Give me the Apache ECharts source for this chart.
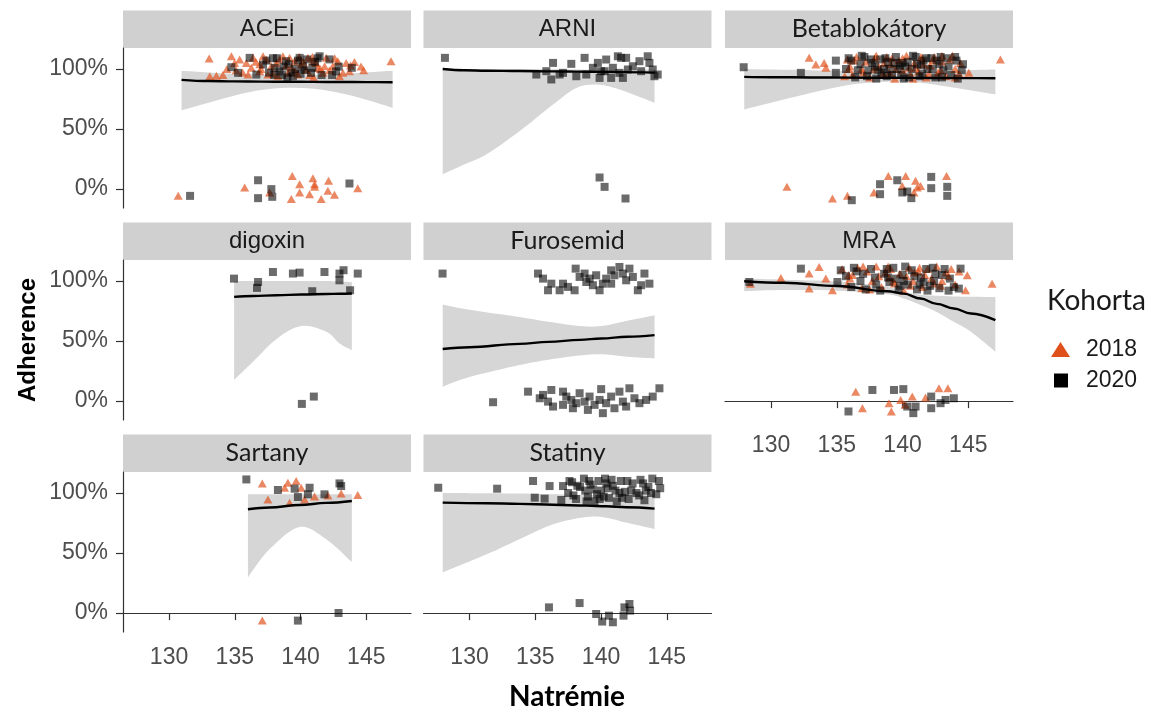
<!DOCTYPE html>
<html lang="cs">
<head>
<meta charset="UTF-8">
<script src="https://cdn.jsdelivr.net/npm/echarts@6/dist/echarts.min.js"></script>
<title>Adherence a natrémie</title>
</head>
<body style="margin:0;background:#fff">
<div id="chart" style="width:1151px;height:713px;"></div>
<script>
// tick labels / axis ranges
const X_TICKS = [130, 135, 140, 145];
const Y_TICKS = [0, 0.5, 1];
const PANELS = ['ACEi', 'ARNI', 'Betablokátory', 'digoxin', 'Furosemid', 'MRA', 'Sartany', 'Statiny'];
const COHORTS = ['2018', '2020'];

// smooth fits: [natremie, fit, lower, upper]
const ACEI_FIT = [[130.95, 0.91, 0.656, 0.985], [133, 0.90, 0.72, 0.97], [135, 0.897, 0.78, 0.96], [137, 0.895, 0.825, 0.955],
    [139, 0.894, 0.844, 0.95], [141, 0.893, 0.835, 0.95], [143, 0.892, 0.80, 0.96], [145, 0.891, 0.745, 0.97], [147.0, 0.89, 0.678, 0.985]];
const ARNI_FIT = [[127.96, 1.0, 0.124, 1.005], [129.6, 0.99, 0.205, 1.0], [131.29, 0.986, 0.29, 1.0], [133.82, 0.983, 0.484, 1.0],
    [136.35, 0.98, 0.705, 0.998], [138.12, 0.978, 0.843, 0.995], [139.63, 0.976, 0.871, 0.993], [141.4, 0.974, 0.83, 0.993], [144.07, 0.97, 0.72, 0.995]];
const BETA_FIT = [[127.96, 0.935, 0.664, 1.0], [130, 0.932, 0.72, 0.995], [133, 0.93, 0.80, 0.99], [136, 0.928, 0.87, 0.985],
    [138.8, 0.927, 0.894, 0.975], [141, 0.926, 0.89, 0.975], [143, 0.925, 0.86, 0.98], [145, 0.924, 0.825, 0.99], [147.06, 0.923, 0.788, 0.995]];
const DIGOXIN_FIT = [[134.95, 0.868, 0.176, 1.0], [136.4, 0.875, 0.33, 1.0], [138.2, 0.882, 0.52, 1.0], [140.06, 0.888, 0.625, 1.0],
    [141.96, 0.892, 0.577, 1.0], [142.97, 0.894, 0.48, 0.995], [143.9, 0.896, 0.425, 0.99]];
const FURO_FIT = [[127.96, 0.434, 0.12, 0.805], [130, 0.449, 0.2, 0.76], [133.8, 0.477, 0.30, 0.70], [136, 0.493, 0.345, 0.66],
    [138.4, 0.51, 0.38, 0.625], [140.0, 0.522, 0.39, 0.625], [142, 0.536, 0.37, 0.67], [144.07, 0.55, 0.356, 0.716]];
const MRA_FIT = [[127.96, 0.998, 0.915, 1.02], [131, 0.985, 0.925, 1.01], [135.05, 0.959, 0.92, 0.995], [138.84, 0.915, 0.89, 0.95],
    [140.1, 0.895, 0.854, 0.91], [141.37, 0.854, 0.80, 0.885], [142.6, 0.81, 0.743, 0.877], [143.9, 0.771, 0.66, 0.872],
    [145.2, 0.73, 0.577, 0.87], [147.06, 0.674, 0.411, 0.868]];
const SARTANY_FIT = [[136.0, 0.865, 0.297, 0.99], [137.65, 0.88, 0.533, 0.99], [139.93, 0.9, 0.718, 0.99], [141.95, 0.918, 0.616, 0.99], [143.9, 0.934, 0.427, 0.99]];
const STATINY_FIT = [[127.96, 0.92, 0.339, 1.0], [131.3, 0.915, 0.49, 0.998], [133.8, 0.91, 0.616, 0.995], [136.35, 0.902, 0.74, 0.99],
    [138.88, 0.895, 0.80, 0.985], [140.4, 0.89, 0.795, 0.985], [141.9, 0.882, 0.754, 0.985], [144.07, 0.87, 0.70, 0.99]];

// jittered patients: [natremie, adherence]
const ACEI_2018 = [[133.05, 1.087], [134.74, 1.106], [146.88, 1.065], [133.1, 0.94], [133.6, 0.945], [134.1, 0.95], [135.37, 1.079], [135.88, 1.051],
    [136.39, 1.093], [136.89, 0.982], [137.4, 1.079], [137.52, 0.954], [138.16, 1.051], [138.66, 1.106], [139.04, 0.968], [139.55, 1.065],
    [140.43, 0.996], [140.56, 1.093], [141.19, 1.051], [141.7, 0.968], [141.95, 1.093], [142.46, 1.023], [142.84, 1.065], [143.22, 0.968],
    [143.47, 1.051], [144.1, 1.059], [142.96, 0.94], [136.01, 0.954], [134.99, 1.051], [136.26, 1.01], [137.78, 1.023], [139.3, 1.01],
    [139.8, 0.954], [140.05, 1.037], [141.32, 1.01], [141.83, 1.023], [138.28, 0.94], [137.15, 1.106], [139.17, 1.093], [140.94, 1.065],
    [143.72, 0.982], [135.1, 0.99], [138.9, 1.03], [140.7, 0.95], [142.2, 0.99], [144.6, 1.02], [137.0, 1.0], [139.9, 1.1], [141.0, 0.93], [136.6, 1.06],
    [135.6, 0.97], [136.9, 1.04], [138.4, 1.08], [139.6, 0.98], [140.2, 1.06], [141.5, 1.0], [142.6, 1.09], [143.8, 1.03], [144.8, 0.99], [134.4, 1.0],
    [137.9, 0.96], [140.9, 1.1],
    [130.7, -0.056], [135.75, 0.014], [137.65, -0.028], [139.37, 0.11], [139.93, 0.041], [140.94, 0.091], [141.07, 0.041], [141.07, 0.019],
    [142.13, 0.069], [139.93, -0.028], [140.69, -0.042], [139.3, -0.083], [141.57, -0.083], [142.08, -0.014], [142.58, -0.047], [144.35, 0.008]];
const ACEI_2020 = [[134.74, 1.015], [135.25, 0.968], [136.13, 1.093], [143.9, 1.01], [142.7, 0.98], [141.45, 1.106], [139.42, 0.94], [137.9, 1.09],
    [140.18, 1.023], [138.9, 1.065], [137.15, 1.037], [138.4, 0.98], [142.2, 1.08], [140.8, 0.968], [136.64, 0.954], [139.93, 1.093], [138.03, 1.01],
    [139.1, 1.04], [138.6, 0.95], [140.3, 0.99], [141.1, 1.06], [137.6, 0.97], [139.6, 1.0], [142.9, 1.02],
    [138.2, 1.09], [138.7, 1.02], [139.3, 0.97], [139.8, 1.07], [140.5, 1.08], [140.9, 1.01], [141.6, 0.95], [139.0, 0.93], [138.0, 0.95],
    [140.0, 0.96], [141.3, 1.09], [137.4, 1.07], [142.4, 0.95],
    [131.6, -0.056], [136.77, 0.074], [136.77, -0.075], [137.78, 0.0], [137.85, -0.064], [143.72, 0.047]];
const ARNI_2020 = [[128.13, 1.093], [135.84, 0.982], [136.35, 1.051], [135.08, 0.954], [136.22, 0.913], [136.85, 0.954], [137.74, 1.043], [138.12, 0.94],
    [138.75, 1.093], [138.88, 0.954], [139.76, 1.051], [139.89, 0.926], [140.27, 0.982], [140.39, 1.079], [140.77, 0.926], [141.28, 1.106],
    [141.4, 0.968], [141.66, 0.926], [141.91, 1.093], [142.04, 0.996], [142.42, 1.023], [142.92, 1.065], [143.55, 1.106], [143.68, 1.051],
    [143.93, 0.996], [144.31, 0.954], [144.06, 0.94], [137.11, 0.968], [139.38, 1.01], [140.9, 1.01], [141.53, 1.093], [143.05, 0.982], [140.0, 0.982],
    [139.89, 0.097], [140.27, 0.019], [141.86, -0.078]];
const BETA_2018 = [[132.9, 1.093], [133.41, 1.037], [134.04, 1.051], [134.17, 1.01], [145.04, 0.968], [147.44, 1.079],
    [135.8, 1.08], [136.2, 0.95], [136.5, 1.1], [136.9, 1.0], [137.2, 1.06], [137.5, 0.93], [137.9, 1.09], [138.2, 1.02], [138.5, 0.96], [138.8, 1.1],
    [139.1, 1.04], [139.4, 0.92], [139.7, 1.07], [140.0, 0.99], [140.3, 1.11], [140.6, 0.95], [140.9, 1.05], [141.2, 0.98], [141.5, 1.09], [141.8, 0.93],
    [142.1, 1.03], [142.4, 1.1], [142.7, 0.97], [143.0, 1.06], [143.3, 0.94], [143.6, 1.08], [144.0, 1.0], [144.4, 1.05], [136.0, 1.02], [137.0, 0.97],
    [138.0, 1.11], [139.0, 0.97], [140.0, 1.09], [141.0, 1.01], [142.0, 0.96], [143.0, 1.11], [144.0, 0.93], [135.6, 0.94], [139.5, 1.0], [141.6, 1.04],
    [136.3, 1.07], [137.8, 1.0], [139.2, 1.09], [140.5, 1.01], [141.4, 1.1], [142.9, 0.99], [143.8, 1.11], [135.9, 1.0], [138.6, 1.05], [140.8, 0.92],
    [142.3, 1.07], [144.3, 0.96],
    [131.21, 0.019], [134.67, -0.078], [135.81, -0.056], [137.83, -0.028], [138.92, 0.11], [140.24, 0.11], [139.98, 0.027], [140.99, 0.069],
    [141.12, 0.014], [141.37, 0.027], [143.35, 0.11], [140.87, -0.028]];
const BETA_2020 = [[127.92, 1.015], [132.27, 0.968], [134.93, 1.07], [134.93, 0.968],
    [135.7, 1.0], [136.1, 1.07], [136.4, 0.93], [136.8, 1.04], [137.1, 1.1], [137.4, 0.99], [137.7, 1.05], [138.0, 0.92], [138.3, 1.08], [138.6, 1.0],
    [138.9, 1.06], [139.2, 0.95], [139.5, 1.1], [139.8, 1.03], [140.1, 0.92], [140.4, 1.06], [140.7, 1.0], [141.0, 1.1], [141.3, 0.94], [141.6, 1.07],
    [141.9, 1.0], [142.2, 1.09], [142.5, 0.93], [142.8, 1.04], [143.1, 0.99], [143.4, 1.09], [143.7, 0.95], [144.1, 1.07], [144.5, 0.99], [144.2, 0.92],
    [139.0, 1.0], [140.2, 1.02], [138.4, 0.97], [141.4, 1.03],
    [135.9, 1.09], [136.6, 0.99], [137.3, 0.94], [137.9, 1.02], [138.7, 1.09], [139.4, 1.05], [139.9, 0.95], [140.5, 0.93], [141.1, 1.04], [141.8, 1.09],
    [142.3, 1.0], [142.9, 1.1], [143.5, 1.02], [144.0, 1.1], [144.6, 1.04], [136.9, 1.11], [138.1, 0.99], [140.8, 1.11], [143.0, 0.93], [139.6, 1.0],
    [137.6, 1.08], [142.6, 1.07], [140.0, 1.05], [141.5, 0.96], [138.8, 0.94],
    [136.14, -0.092], [138.29, 0.041], [138.29, -0.042], [139.6, 0.074], [139.98, -0.028], [140.36, -0.02], [140.67, -0.075], [142.18, 0.102],
    [142.18, 0.008], [143.4, 0.019], [143.4, -0.056]];
const DIGOXIN_2020 = [[134.94, 1.02], [136.77, 0.992], [136.69, 0.943], [137.9, 1.075], [139.42, 1.062], [139.93, 1.07], [140.89, 0.915], [141.82, 1.075],
    [142.96, 1.062], [143.27, 1.09], [142.96, 1.006], [143.77, 0.923], [144.35, 1.062], [140.1, -0.023], [141.01, 0.038]];
const FURO_2020 = [[127.95, 1.062], [135.21, 1.062], [135.59, 1.02], [135.97, 0.923], [136.22, 0.978], [136.85, 0.923], [137.11, 0.978], [137.48, 0.951],
    [137.99, 0.923], [138.07, 1.103], [138.37, 1.034], [138.75, 1.062], [139.13, 1.02], [139.38, 0.965], [139.63, 1.048], [139.89, 0.923],
    [140.14, 0.978], [140.39, 1.02], [140.77, 1.089], [141.02, 1.048], [141.4, 1.117], [141.66, 1.062], [141.91, 1.006], [142.16, 1.103],
    [142.42, 1.034], [142.8, 0.923], [143.05, 0.965], [143.3, 1.062], [143.68, 0.978], [138.88, 0.992], [140.77, 0.978],
    [131.79, -0.009], [134.45, 0.079], [135.59, 0.052], [135.97, -0.004], [136.22, 0.093], [136.35, -0.045], [137.11, 0.079], [137.11, -0.031],
    [137.36, 0.038], [137.74, 0.01], [137.86, -0.059], [138.37, 0.066], [138.75, -0.004], [139.0, -0.073], [139.13, 0.038], [139.51, -0.031],
    [139.89, 0.01], [140.01, 0.1], [140.14, -0.1], [140.39, -0.017], [140.77, 0.038], [141.02, -0.059], [141.4, 0.079], [141.66, -0.004],
    [141.91, -0.045], [142.16, 0.107], [142.54, 0.024], [142.92, -0.017], [143.43, 0.01], [143.93, 0.038], [144.44, 0.107], [138.12, -0.017], [135.34, 0.024]];
const MRA_2018 = [[128.43, 0.978], [130.75, 1.025], [132.9, 1.062], [132.9, 0.937], [133.66, 1.117], [134.17, 1.02], [134.67, 0.923], [144.92, 1.048],
    [144.79, 0.923], [146.81, 0.978],
    [135.4, 1.1], [135.8, 0.97], [136.2, 1.05], [136.6, 1.11], [136.9, 0.94], [137.3, 1.08], [137.7, 1.0], [138.0, 1.12], [138.4, 0.95], [138.7, 1.07],
    [139.1, 1.1], [139.4, 0.98], [139.8, 1.06], [140.1, 0.92], [140.5, 1.11], [140.8, 1.0], [141.2, 1.08], [141.5, 0.95], [141.9, 1.1], [142.2, 1.02],
    [142.6, 1.12], [142.9, 0.96], [143.3, 1.07], [143.7, 1.1], [144.0, 0.97], [136.0, 1.02], [137.5, 0.93], [139.0, 1.03], [140.3, 1.04], [141.7, 1.05], [143.0, 1.0],
    [135.9, 1.05], [137.0, 1.12], [138.2, 1.04], [139.3, 1.0], [140.6, 0.96], [141.3, 1.11], [142.4, 0.98], [143.5, 1.04], [144.3, 1.08], [138.9, 1.12], [140.9, 1.07],
    [136.44, 0.079], [136.95, -0.059], [138.97, -0.017], [139.15, -0.086], [139.86, 0.01], [140.74, 0.038], [141.75, 0.03], [142.77, 0.107],
    [143.45, 0.107], [140.2, -0.03]];
const MRA_2020 = [[128.35, 0.992], [132.27, 1.103], [135.05, 0.992], [135.3, 1.089], [144.41, 1.103], [144.28, 0.937],
    [135.7, 1.04], [136.1, 0.95], [136.5, 1.08], [136.8, 1.0], [137.2, 0.93], [137.6, 1.1], [137.9, 1.03], [138.3, 0.92], [138.6, 1.06], [139.0, 0.99],
    [139.3, 1.11], [139.7, 0.93], [140.0, 1.05], [140.4, 0.97], [140.7, 1.09], [141.1, 0.93], [141.4, 1.03], [141.8, 1.1], [142.1, 0.96], [142.5, 1.06],
    [142.8, 0.94], [143.2, 1.1], [143.6, 1.02], [143.9, 0.95], [138.9, 1.03], [140.1, 1.0], [141.3, 0.97], [142.4, 1.0],
    [136.3, 1.11], [137.0, 1.06], [138.0, 0.97], [138.8, 1.1], [139.5, 1.02], [140.2, 1.12], [140.9, 1.04], [141.6, 0.99], [142.3, 1.11], [143.0, 1.05],
    [143.5, 0.92], [139.8, 0.96], [141.9, 0.92],
    [135.89, -0.086], [137.71, 0.093], [139.35, 0.093], [140.06, 0.1], [140.36, -0.045], [140.99, -0.045], [140.82, -0.1], [142.18, 0.038],
    [142.18, -0.059], [143.27, 0.01], [143.9, 0.024], [142.89, -0.017]];
const SARTANY_2018 = [[137.09, 1.08], [137.52, 0.947], [138.79, 1.044], [139.04, 1.086], [139.17, 0.92], [139.67, 1.1], [140.05, 1.044], [140.31, 0.947],
    [141.07, 0.97], [142.08, 0.98], [143.09, 0.997], [144.35, 0.983], [137.09, -0.062]];
const SARTANY_2020 = [[135.88, 1.113], [138.28, 1.025], [139.55, 1.036], [139.8, 0.967], [140.69, 1.044], [140.56, 0.989], [141.82, 0.989],
    [142.96, 1.08], [143.09, 1.058], [139.8, -0.062], [142.89, 0.001]];
const STATINY_2020 = [[127.62, 1.044], [132.1, 1.036], [134.83, 1.1], [134.96, 0.961], [135.71, 0.953], [136.09, 1.058], [137.11, 1.058], [136.98, 0.942],
    [137.5, 1.0], [137.8, 1.09], [138.1, 0.95], [138.4, 1.05], [138.7, 1.12], [139.0, 0.97], [139.2, 1.07], [139.5, 0.93], [139.8, 1.1], [140.0, 1.02],
    [140.3, 1.12], [140.6, 0.96], [140.9, 1.06], [141.2, 0.93], [141.5, 1.1], [141.8, 1.01], [142.1, 0.95], [142.4, 1.08], [142.7, 1.0], [143.0, 1.11],
    [143.3, 0.94], [143.6, 1.05], [143.9, 1.12], [144.2, 0.99], [144.5, 1.04], [138.8, 1.02], [139.9, 0.95], [140.5, 1.04], [141.4, 1.0], [142.0, 1.1],
    [143.4, 1.02], [137.9, 0.98],
    [137.6, 1.1], [138.2, 1.06], [138.9, 0.93], [139.4, 1.03], [139.7, 0.99], [140.2, 0.97], [140.8, 1.11], [141.1, 1.02], [141.6, 0.96], [142.3, 1.02],
    [142.9, 0.98], [143.2, 1.08], [143.8, 1.0], [144.4, 1.1], [140.4, 1.08], [139.1, 1.1],
    [136.04, 0.048], [138.37, 0.084], [139.63, -0.007], [140.09, -0.07], [140.6, -0.021], [140.9, -0.076], [141.71, -0.021], [142.16, 0.076],
    [142.21, 0.021], [141.78, 0.048]];

const FITS = [ACEI_FIT, ARNI_FIT, BETA_FIT, DIGOXIN_FIT, FURO_FIT, MRA_FIT, SARTANY_FIT, STATINY_FIT];
const POINTS_2018 = [ACEI_2018, [], BETA_2018, [], [], MRA_2018, SARTANY_2018, []];
const POINTS_2020 = [ACEI_2020, ARNI_2020, BETA_2020, DIGOXIN_2020, FURO_2020, MRA_2020, SARTANY_2020, STATINY_2020];

// layout
const COL_LEFT = [123, 423.5, 725];
const ROW_TOP = [48, 260, 472];
const PANEL_W = 288, PANEL_H = 160, STRIP_H = 37.5;
const CALIBRI_LIKE = ['Betablokátory', 'Furosemid', 'Sartany', 'Statiny'];

const ORANGE = '#E0501A';
const TICK_FONT = {fontFamily: 'Liberation Sans', fontSize: 23, color: '#4d4d4d'};
const AXIS_LINE = {color: '#333', width: 1.2};

// catmull-rom through pixel points -> svg curve segments
function curveThrough(p) {
    let d = '';
    for (let k = 0; k < p.length - 1; k++) {
        let p0 = p[Math.max(k - 1, 0)], p1 = p[k], p2 = p[k + 1], p3 = p[Math.min(k + 2, p.length - 1)];
        let c1 = [p1[0] + (p2[0] - p0[0]) / 6, p1[1] + (p2[1] - p0[1]) / 6];
        let c2 = [p2[0] - (p3[0] - p1[0]) / 6, p2[1] - (p3[1] - p1[1]) / 6];
        d += ' C' + c1[0] + ',' + c1[1] + ' ' + c2[0] + ',' + c2[1] + ' ' + p2[0] + ',' + p2[1];
    }
    return d;
}

function ribbonSeries(fit, gi) {
    return {
        type: 'custom', xAxisIndex: gi, yAxisIndex: gi, silent: true, z: 1, clip: true,
        data: fit.map(function (r) { return [r[0], r[2], r[3]]; }),
        encode: {x: 0, y: [1, 2]},
        renderItem: function (params, api) {
            if (params.dataIndex !== 0) return null;
            let up = fit.map(function (r) { return api.coord([r[0], r[3]]); });
            let lo = fit.map(function (r) { return api.coord([r[0], r[2]]); }).reverse();
            let d = 'M' + up[0][0] + ',' + up[0][1] + curveThrough(up) +
                ' L' + lo[0][0] + ',' + lo[0][1] + curveThrough(lo) + ' Z';
            return {type: 'path', shape: {pathData: d}, style: {fill: '#d6d6d6'}};
        }
    };
}

let myChart = echarts.init(document.getElementById('chart'));

let grids = [], xAxes = [], yAxes = [], series = [], graphics = [];

PANELS.forEach(function (name, i) {
    let col = i % 3, row = Math.floor(i / 3);
    let isBottom = i + 3 >= PANELS.length;
    let isLeft = col === 0;
    grids.push({left: COL_LEFT[col], top: ROW_TOP[row], width: PANEL_W, height: PANEL_H, outerBoundsMode: 'none'});
    xAxes.push({
        type: 'value', gridIndex: i, min: 126.5, max: 148.4,
        axisLine: {show: isBottom, lineStyle: AXIS_LINE},
        axisTick: {show: isBottom, length: 7, customValues: X_TICKS, lineStyle: AXIS_LINE},
        axisLabel: Object.assign({show: isBottom, customValues: X_TICKS, margin: 14}, TICK_FONT),
        splitLine: {show: false}
    });
    yAxes.push({
        type: 'value', gridIndex: i, min: -0.157, max: 1.175,
        axisLine: {show: isLeft, lineStyle: AXIS_LINE},
        axisTick: {show: isLeft, length: 7, customValues: Y_TICKS, lineStyle: AXIS_LINE},
        axisLabel: Object.assign({
            show: isLeft, customValues: Y_TICKS, margin: 15,
            formatter: function (v) { return Math.round(v * 100) + '%'; }
        }, TICK_FONT),
        splitLine: {show: false}
    });

    let fit = FITS[i];
    series.push(ribbonSeries(fit, i));
    if (POINTS_2018[i].length) {
        series.push({
            name: '2018', type: 'scatter', xAxisIndex: i, yAxisIndex: i, z: 3,
            symbol: 'triangle', symbolSize: [9, 8], data: POINTS_2018[i],
            itemStyle: {color: ORANGE, opacity: 0.68}
        });
    }
    series.push({
        name: '2020', type: 'scatter', xAxisIndex: i, yAxisIndex: i, z: 3,
        symbol: 'rect', symbolSize: 8, data: POINTS_2020[i],
        itemStyle: {color: '#000', opacity: 0.58}
    });
    series.push({
        type: 'line', xAxisIndex: i, yAxisIndex: i, z: 4,
        data: fit.map(function (r) { return [r[0], r[1]]; }),
        symbol: 'none', smooth: 0.4, smoothMonotone: 'x', silent: true,
        lineStyle: {color: '#000', width: 2.4}
    });

    // facet strip
    graphics.push({
        type: 'rect', silent: true,
        shape: {x: COL_LEFT[col], y: ROW_TOP[row] - STRIP_H, width: PANEL_W, height: STRIP_H},
        style: {fill: '#d0d0d0'}
    });
    let calibri = CALIBRI_LIKE.indexOf(name) >= 0;
    graphics.push({
        type: 'text', silent: true,
        x: COL_LEFT[col] + PANEL_W / 2, y: ROW_TOP[row] - STRIP_H / 2,
        style: {
            text: name, fill: '#1a1a1a', align: 'center', verticalAlign: 'middle',
            font: (calibri ? '25px Lato' : '24px "Liberation Sans"')
        }
    });
});

// axis titles
graphics.push({
    type: 'text', silent: true, x: 28, y: 340, rotation: Math.PI / 2,
    style: {text: 'Adherence', fill: '#000', align: 'center', verticalAlign: 'middle', font: 'bold 24px "Liberation Sans"'}
});
graphics.push({
    type: 'text', silent: true, x: 567, y: 697,
    style: {text: 'Natrémie', fill: '#000', align: 'center', verticalAlign: 'middle', font: 'bold 28px Lato'}
});

function legendText(pad) {
    return {
        fontFamily: 'Liberation Sans', fontSize: 23, color: '#1a1a1a',
        rich: {t: {fontFamily: 'Liberation Sans', fontSize: 23, color: '#1a1a1a', padding: [0, 0, 0, pad]}}
    };
}

let option = {
    animation: false,
    backgroundColor: '#fff',
    title: {
        text: 'Kohorta', left: 1042, top: 282,
        textStyle: {fontFamily: 'Lato', fontSize: 28, fontWeight: 'normal', color: '#1a1a1a'}
    },
    legend: [
        {
            left: 1046, top: 333, itemWidth: 19, itemHeight: 15, selectedMode: false,
            data: [{name: COHORTS[0], icon: 'triangle', itemStyle: {color: ORANGE, opacity: 1}}],
            formatter: '{t|{name}}', textStyle: legendText(11)
        },
        {
            left: 1049, top: 364, itemWidth: 14, itemHeight: 14, selectedMode: false,
            data: [{name: COHORTS[1], icon: 'rect', itemStyle: {color: '#000', opacity: 1}}],
            formatter: '{t|{name}}', textStyle: legendText(13)
        }
    ],
    grid: grids,
    xAxis: xAxes,
    yAxis: yAxes,
    series: series,
    graphic: graphics
};
myChart.setOption(option);
</script>
</body>
</html>
